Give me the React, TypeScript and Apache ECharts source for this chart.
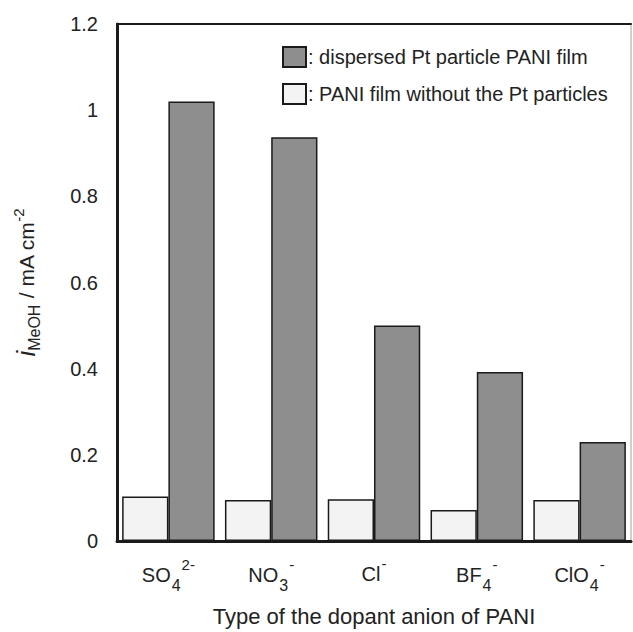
import React, { useEffect, useRef } from "react";
import * as echarts from "echarts";

const anionBase = ["SO", "NO", "Cl", "BF", "ClO"];
const anionSub = ["4", "3", "", "4", "4"];
const anionSup = ["2-", "-", "-", "-", "-"];
const categories = ["SO4 2-", "NO3 -", "Cl -", "BF4 -", "ClO4 -"];

const withoutPt = [0.103, 0.095, 0.097, 0.072, 0.095];
const withPt = [1.02, 0.937, 0.5, 0.392, 0.23];

const nameWith = "dispersed Pt particle PANI film";
const nameWithout = "PANI film without the Pt particles";

const FONT = "'Liberation Sans', Arial, Helvetica, sans-serif";

export default function App() {
  const ref = useRef<HTMLDivElement>(null);
  useEffect(() => {
    if (!ref.current) return;
    const chart = echarts.init(ref.current, undefined, { renderer: "svg" });
    const border = { borderColor: "#1a1a1a", borderWidth: 1.5 };
    chart.setOption({
      animation: false,
      backgroundColor: "#ffffff",
      textStyle: { fontFamily: FONT },
      grid: {
        left: 117,
        right: 2,
        top: 24,
        bottom: 91,
        show: true,
        borderColor: "#a0a0a0",
        borderWidth: 1,
        containLabel: false,
        outerBoundsMode: "none",
      },
      legend: {
        orient: "vertical",
        left: 277,
        top: 41,
        itemWidth: 23,
        itemHeight: 20,
        itemGap: 15,
        icon: "rect",
        data: [nameWith, nameWithout],
        formatter: (n: string) => ": " + n,
        textStyle: { fontSize: 20, color: "#222", fontFamily: FONT, padding: [0, 0, 0, -3] },
      },
      xAxis: [
        {
          type: "category",
          data: categories,
          position: "bottom",
          axisLine: { lineStyle: { color: "#1a1a1a", width: 3 } },
          axisTick: { show: false },
          axisLabel: {
            interval: 0,
            margin: 15,
            formatter: (_v: string, i: number) => {
              let s = "{b|" + anionBase[i] + "}";
              if (anionSub[i]) s += "{sub|" + anionSub[i] + "}";
              if (anionSup[i]) s += "{sup|" + anionSup[i] + "}";
              return s;
            },
            rich: {
              b: { fontSize: 20, color: "#222", fontFamily: FONT },
              sub: { fontSize: 16, color: "#222", fontFamily: FONT, padding: [21, 0, 0, 1] },
              sup: { fontSize: 15, color: "#222", fontFamily: FONT, padding: [0, 0, 21, 1] },
            },
          },
          name: "Type of the dopant anion of PANI",
          nameLocation: "middle",
          nameGap: 64,
          nameTextStyle: { fontSize: 22, color: "#222", fontFamily: FONT },
        },
        {
          type: "category",
          data: categories,
          position: "top",
          axisLine: { lineStyle: { color: "#1a1a1a", width: 2 } },
          axisTick: { show: false },
          axisLabel: { show: false },
        },
      ],
      yAxis: {
        type: "value",
        min: 0,
        max: 1.2,
        interval: 0.2,
        axisLine: { show: true, lineStyle: { color: "#1a1a1a", width: 3 } },
        axisTick: { show: false },
        splitLine: { show: false },
        axisLabel: { fontSize: 20, color: "#222", margin: 19, fontFamily: FONT },
        name: "{i|i}{sub|MeOH}{t| / mA cm}{sup|-2}",
        nameLocation: "middle",
        nameRotate: 90,
        nameGap: 75,
        nameTextStyle: {
          rich: {
            i: { fontSize: 26, fontStyle: "italic", color: "#222", fontFamily: FONT },
            sub: { fontSize: 16, color: "#222", fontFamily: FONT, padding: [16, 0, 0, 0] },
            t: { fontSize: 21, color: "#222", fontFamily: FONT },
            sup: { fontSize: 15, color: "#222", fontFamily: FONT, padding: [0, 0, 16, 0] },
          },
        },
      },
      series: [
        {
          name: nameWithout,
          type: "bar",
          data: withoutPt,
          barGap: "0%",
          barCategoryGap: "10%",
          itemStyle: { color: "#f3f3f3", ...border },
        },
        {
          name: nameWith,
          type: "bar",
          data: withPt,
          barGap: "0%",
          barCategoryGap: "10%",
          itemStyle: { color: "#8e8e8e", ...border },
        },
      ],
    });
    return () => chart.dispose();
  }, []);
  return (
    <div
      ref={ref}
      style={{ position: "fixed", left: 0, top: 0, width: 633, height: 632 }}
    />
  );
}
